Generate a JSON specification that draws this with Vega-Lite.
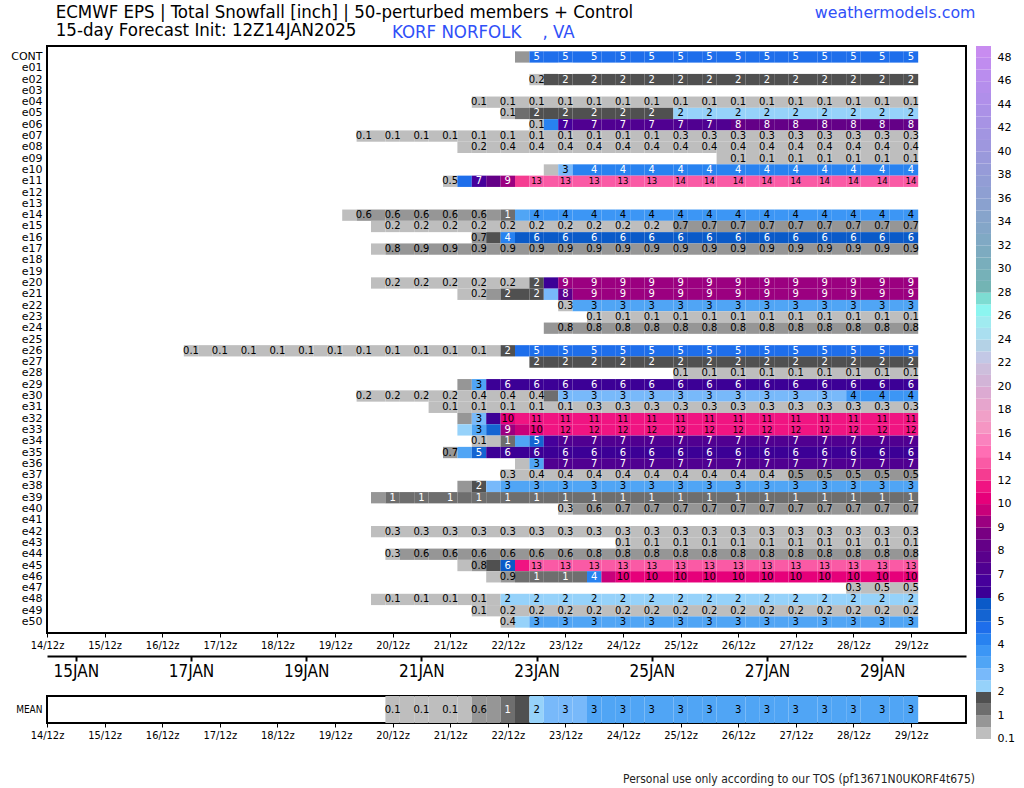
{
"$schema":"https://vega.github.io/schema/vega-lite/v6.json",
"background":"white",
"padding":{"left":9,"top":3,"right":0,"bottom":0},
"title":{"text":"weathermodels.com","anchor":"end","frame":"bounds","dx":-39,"dy":19,"offset":0,"font":"DejaVu Sans","fontSize":15.8,"fontWeight":"normal","color":"#3050f8"},
"config":{"view":{"stroke":null},"font":"DejaVu Sans"},
"datasets":{
"dt":[{"t":2},{"t":10},{"t":18},{"t":26},{"t":34},{"t":42},{"t":50},{"t":58}],
"lg":[{"v":0.1},{"v":0.5},{"v":1},{"v":1.5},{"v":2},{"v":2.5},{"v":3},{"v":3.5},{"v":4},{"v":4.5},{"v":5},{"v":5.5},{"v":6},{"v":6.5},{"v":7},{"v":7.5},{"v":8},{"v":8.5},{"v":9},{"v":9.5},{"v":10},{"v":11},{"v":12},{"v":13},{"v":14},{"v":15},{"v":16},{"v":17},{"v":18},{"v":19},{"v":20},{"v":21},{"v":22},{"v":23},{"v":24},{"v":25},{"v":26},{"v":27},{"v":28},{"v":29},{"v":30},{"v":31},{"v":32},{"v":33},{"v":34},{"v":35},{"v":36},{"v":37},{"v":38},{"v":39},{"v":40},{"v":41},{"v":42},{"v":43},{"v":44},{"v":45},{"v":46},{"v":47},{"v":48}],
"mn":[{"m":"MEAN","t":24,"v":0.1},{"m":"MEAN","t":25,"v":0.1},{"m":"MEAN","t":26,"v":0.1},{"m":"MEAN","t":27,"v":0.1},{"m":"MEAN","t":28,"v":0.1},{"m":"MEAN","t":29,"v":0.2},{"m":"MEAN","t":30,"v":0.6},{"m":"MEAN","t":31,"v":0.8},{"m":"MEAN","t":32,"v":1.2},{"m":"MEAN","t":33,"v":1.7},{"m":"MEAN","t":34,"v":2.2},{"m":"MEAN","t":35,"v":2.7},{"m":"MEAN","t":36,"v":2.8},{"m":"MEAN","t":37,"v":2.9},{"m":"MEAN","t":38,"v":3.2},{"m":"MEAN","t":39,"v":3.2},{"m":"MEAN","t":40,"v":3.2},{"m":"MEAN","t":41,"v":3.2},{"m":"MEAN","t":42,"v":3.2},{"m":"MEAN","t":43,"v":3.2},{"m":"MEAN","t":44,"v":3.2},{"m":"MEAN","t":45,"v":3.2},{"m":"MEAN","t":46,"v":3.2},{"m":"MEAN","t":47,"v":3.2},{"m":"MEAN","t":48,"v":3.2},{"m":"MEAN","t":49,"v":3.2},{"m":"MEAN","t":50,"v":3.2},{"m":"MEAN","t":51,"v":3.2},{"m":"MEAN","t":52,"v":3.2},{"m":"MEAN","t":53,"v":3.2},{"m":"MEAN","t":54,"v":3.2},{"m":"MEAN","t":55,"v":3.2},{"m":"MEAN","t":56,"v":3.2},{"m":"MEAN","t":57,"v":3.2},{"m":"MEAN","t":58,"v":3.2},{"m":"MEAN","t":59,"v":3.2},{"m":"MEAN","t":60,"v":3.2}],
"mem":[
{"m":"CONT","t":33,"v":0.7},{"m":"CONT","t":34,"v":4.8},{"m":"CONT","t":35,"v":4.8},{"m":"CONT","t":36,"v":4.8},{"m":"CONT","t":37,"v":4.8},{"m":"CONT","t":38,"v":4.8},{"m":"CONT","t":39,"v":4.8},{"m":"CONT","t":40,"v":4.8},{"m":"CONT","t":41,"v":4.8},{"m":"CONT","t":42,"v":4.8},{"m":"CONT","t":43,"v":4.8},{"m":"CONT","t":44,"v":4.8},{"m":"CONT","t":45,"v":4.8},{"m":"CONT","t":46,"v":4.8},{"m":"CONT","t":47,"v":4.8},{"m":"CONT","t":48,"v":4.8},{"m":"CONT","t":49,"v":4.8},{"m":"CONT","t":50,"v":4.8},{"m":"CONT","t":51,"v":4.8},{"m":"CONT","t":52,"v":4.8},{"m":"CONT","t":53,"v":4.8},{"m":"CONT","t":54,"v":4.8},{"m":"CONT","t":55,"v":4.8},{"m":"CONT","t":56,"v":4.8},{"m":"CONT","t":57,"v":4.8},{"m":"CONT","t":58,"v":4.8},{"m":"CONT","t":59,"v":4.8},{"m":"CONT","t":60,"v":4.8},
{"m":"e02","t":34,"v":0.2},{"m":"e02","t":35,"v":1.8},{"m":"e02","t":36,"v":1.8},{"m":"e02","t":37,"v":1.8},{"m":"e02","t":38,"v":1.8},{"m":"e02","t":39,"v":1.8},{"m":"e02","t":40,"v":1.8},{"m":"e02","t":41,"v":1.8},{"m":"e02","t":42,"v":1.8},{"m":"e02","t":43,"v":1.8},{"m":"e02","t":44,"v":1.8},{"m":"e02","t":45,"v":1.8},{"m":"e02","t":46,"v":1.8},{"m":"e02","t":47,"v":1.8},{"m":"e02","t":48,"v":1.8},{"m":"e02","t":49,"v":1.8},{"m":"e02","t":50,"v":1.8},{"m":"e02","t":51,"v":1.8},{"m":"e02","t":52,"v":1.8},{"m":"e02","t":53,"v":1.8},{"m":"e02","t":54,"v":1.8},{"m":"e02","t":55,"v":1.8},{"m":"e02","t":56,"v":1.8},{"m":"e02","t":57,"v":1.8},{"m":"e02","t":58,"v":1.8},{"m":"e02","t":59,"v":1.8},{"m":"e02","t":60,"v":1.8},
{"m":"e04","t":30,"v":0.1},{"m":"e04","t":31,"v":0.1},{"m":"e04","t":32,"v":0.1},{"m":"e04","t":33,"v":0.1},{"m":"e04","t":34,"v":0.1},{"m":"e04","t":35,"v":0.1},{"m":"e04","t":36,"v":0.1},{"m":"e04","t":37,"v":0.1},{"m":"e04","t":38,"v":0.1},{"m":"e04","t":39,"v":0.1},{"m":"e04","t":40,"v":0.1},{"m":"e04","t":41,"v":0.1},{"m":"e04","t":42,"v":0.1},{"m":"e04","t":43,"v":0.1},{"m":"e04","t":44,"v":0.1},{"m":"e04","t":45,"v":0.1},{"m":"e04","t":46,"v":0.1},{"m":"e04","t":47,"v":0.1},{"m":"e04","t":48,"v":0.1},{"m":"e04","t":49,"v":0.1},{"m":"e04","t":50,"v":0.1},{"m":"e04","t":51,"v":0.1},{"m":"e04","t":52,"v":0.1},{"m":"e04","t":53,"v":0.1},{"m":"e04","t":54,"v":0.1},{"m":"e04","t":55,"v":0.1},{"m":"e04","t":56,"v":0.1},{"m":"e04","t":57,"v":0.1},{"m":"e04","t":58,"v":0.1},{"m":"e04","t":59,"v":0.1},{"m":"e04","t":60,"v":0.1},
{"m":"e05","t":32,"v":0.1},{"m":"e05","t":33,"v":1.2},{"m":"e05","t":34,"v":1.8},{"m":"e05","t":35,"v":1.8},{"m":"e05","t":36,"v":1.8},{"m":"e05","t":37,"v":1.8},{"m":"e05","t":38,"v":1.8},{"m":"e05","t":39,"v":1.8},{"m":"e05","t":40,"v":1.8},{"m":"e05","t":41,"v":1.8},{"m":"e05","t":42,"v":1.8},{"m":"e05","t":43,"v":1.8},{"m":"e05","t":44,"v":2.2},{"m":"e05","t":45,"v":2.2},{"m":"e05","t":46,"v":2.2},{"m":"e05","t":47,"v":2.2},{"m":"e05","t":48,"v":2.2},{"m":"e05","t":49,"v":2.2},{"m":"e05","t":50,"v":2.2},{"m":"e05","t":51,"v":2.2},{"m":"e05","t":52,"v":2.2},{"m":"e05","t":53,"v":2.2},{"m":"e05","t":54,"v":2.2},{"m":"e05","t":55,"v":2.2},{"m":"e05","t":56,"v":2.2},{"m":"e05","t":57,"v":2.2},{"m":"e05","t":58,"v":2.2},{"m":"e05","t":59,"v":2.2},{"m":"e05","t":60,"v":2.2},
{"m":"e06","t":34,"v":0.1},{"m":"e06","t":35,"v":4.2},{"m":"e06","t":36,"v":6.8},{"m":"e06","t":37,"v":7.2},{"m":"e06","t":38,"v":7.2},{"m":"e06","t":39,"v":7.2},{"m":"e06","t":40,"v":7.2},{"m":"e06","t":41,"v":7.2},{"m":"e06","t":42,"v":7.2},{"m":"e06","t":43,"v":7.2},{"m":"e06","t":44,"v":7.2},{"m":"e06","t":45,"v":7.2},{"m":"e06","t":46,"v":7.2},{"m":"e06","t":47,"v":7.2},{"m":"e06","t":48,"v":8.2},{"m":"e06","t":49,"v":8.2},{"m":"e06","t":50,"v":8.2},{"m":"e06","t":51,"v":8.2},{"m":"e06","t":52,"v":8.2},{"m":"e06","t":53,"v":8.2},{"m":"e06","t":54,"v":8.2},{"m":"e06","t":55,"v":8.2},{"m":"e06","t":56,"v":8.2},{"m":"e06","t":57,"v":8.2},{"m":"e06","t":58,"v":8.2},{"m":"e06","t":59,"v":8.2},{"m":"e06","t":60,"v":8.2},
{"m":"e07","t":22,"v":0.1},{"m":"e07","t":23,"v":0.1},{"m":"e07","t":24,"v":0.1},{"m":"e07","t":25,"v":0.1},{"m":"e07","t":26,"v":0.1},{"m":"e07","t":27,"v":0.1},{"m":"e07","t":28,"v":0.1},{"m":"e07","t":29,"v":0.1},{"m":"e07","t":30,"v":0.1},{"m":"e07","t":31,"v":0.1},{"m":"e07","t":32,"v":0.1},{"m":"e07","t":33,"v":0.1},{"m":"e07","t":34,"v":0.1},{"m":"e07","t":35,"v":0.1},{"m":"e07","t":36,"v":0.1},{"m":"e07","t":37,"v":0.1},{"m":"e07","t":38,"v":0.1},{"m":"e07","t":39,"v":0.1},{"m":"e07","t":40,"v":0.1},{"m":"e07","t":41,"v":0.1},{"m":"e07","t":42,"v":0.1},{"m":"e07","t":43,"v":0.1},{"m":"e07","t":44,"v":0.3},{"m":"e07","t":45,"v":0.3},{"m":"e07","t":46,"v":0.3},{"m":"e07","t":47,"v":0.3},{"m":"e07","t":48,"v":0.3},{"m":"e07","t":49,"v":0.3},{"m":"e07","t":50,"v":0.3},{"m":"e07","t":51,"v":0.3},{"m":"e07","t":52,"v":0.3},{"m":"e07","t":53,"v":0.3},{"m":"e07","t":54,"v":0.3},{"m":"e07","t":55,"v":0.3},{"m":"e07","t":56,"v":0.3},{"m":"e07","t":57,"v":0.3},{"m":"e07","t":58,"v":0.3},{"m":"e07","t":59,"v":0.3},{"m":"e07","t":60,"v":0.3},
{"m":"e08","t":29,"v":0.1},{"m":"e08","t":30,"v":0.2},{"m":"e08","t":31,"v":0.3},{"m":"e08","t":32,"v":0.4},{"m":"e08","t":33,"v":0.4},{"m":"e08","t":34,"v":0.4},{"m":"e08","t":35,"v":0.4},{"m":"e08","t":36,"v":0.4},{"m":"e08","t":37,"v":0.4},{"m":"e08","t":38,"v":0.4},{"m":"e08","t":39,"v":0.4},{"m":"e08","t":40,"v":0.4},{"m":"e08","t":41,"v":0.4},{"m":"e08","t":42,"v":0.4},{"m":"e08","t":43,"v":0.4},{"m":"e08","t":44,"v":0.4},{"m":"e08","t":45,"v":0.4},{"m":"e08","t":46,"v":0.4},{"m":"e08","t":47,"v":0.4},{"m":"e08","t":48,"v":0.4},{"m":"e08","t":49,"v":0.4},{"m":"e08","t":50,"v":0.4},{"m":"e08","t":51,"v":0.4},{"m":"e08","t":52,"v":0.4},{"m":"e08","t":53,"v":0.4},{"m":"e08","t":54,"v":0.4},{"m":"e08","t":55,"v":0.4},{"m":"e08","t":56,"v":0.4},{"m":"e08","t":57,"v":0.4},{"m":"e08","t":58,"v":0.4},{"m":"e08","t":59,"v":0.4},{"m":"e08","t":60,"v":0.4},
{"m":"e09","t":47,"v":0.1},{"m":"e09","t":48,"v":0.1},{"m":"e09","t":49,"v":0.1},{"m":"e09","t":50,"v":0.1},{"m":"e09","t":51,"v":0.1},{"m":"e09","t":52,"v":0.1},{"m":"e09","t":53,"v":0.1},{"m":"e09","t":54,"v":0.1},{"m":"e09","t":55,"v":0.1},{"m":"e09","t":56,"v":0.1},{"m":"e09","t":57,"v":0.1},{"m":"e09","t":58,"v":0.1},{"m":"e09","t":59,"v":0.1},{"m":"e09","t":60,"v":0.1},
{"m":"e10","t":35,"v":0.2},{"m":"e10","t":36,"v":2.8},{"m":"e10","t":37,"v":4.2},{"m":"e10","t":38,"v":4.2},{"m":"e10","t":39,"v":4.2},{"m":"e10","t":40,"v":4.2},{"m":"e10","t":41,"v":4.2},{"m":"e10","t":42,"v":4.2},{"m":"e10","t":43,"v":4.2},{"m":"e10","t":44,"v":4.2},{"m":"e10","t":45,"v":4.2},{"m":"e10","t":46,"v":4.2},{"m":"e10","t":47,"v":4.2},{"m":"e10","t":48,"v":4.2},{"m":"e10","t":49,"v":4.2},{"m":"e10","t":50,"v":4.2},{"m":"e10","t":51,"v":4.2},{"m":"e10","t":52,"v":4.2},{"m":"e10","t":53,"v":4.2},{"m":"e10","t":54,"v":4.2},{"m":"e10","t":55,"v":4.2},{"m":"e10","t":56,"v":4.2},{"m":"e10","t":57,"v":4.2},{"m":"e10","t":58,"v":4.2},{"m":"e10","t":59,"v":4.2},{"m":"e10","t":60,"v":4.2},
{"m":"e11","t":28,"v":0.46},{"m":"e11","t":29,"v":4.8},{"m":"e11","t":30,"v":6.8},{"m":"e11","t":31,"v":8.2},{"m":"e11","t":32,"v":9.2},{"m":"e11","t":33,"v":12.4},{"m":"e11","t":34,"v":13.2},{"m":"e11","t":35,"v":13.2},{"m":"e11","t":36,"v":13.2},{"m":"e11","t":37,"v":13.2},{"m":"e11","t":38,"v":13.2},{"m":"e11","t":39,"v":13.2},{"m":"e11","t":40,"v":13.2},{"m":"e11","t":41,"v":13.2},{"m":"e11","t":42,"v":13.2},{"m":"e11","t":43,"v":13.2},{"m":"e11","t":44,"v":13.6},{"m":"e11","t":45,"v":13.6},{"m":"e11","t":46,"v":13.6},{"m":"e11","t":47,"v":13.6},{"m":"e11","t":48,"v":13.6},{"m":"e11","t":49,"v":13.6},{"m":"e11","t":50,"v":13.6},{"m":"e11","t":51,"v":13.6},{"m":"e11","t":52,"v":13.6},{"m":"e11","t":53,"v":13.6},{"m":"e11","t":54,"v":13.6},{"m":"e11","t":55,"v":13.6},{"m":"e11","t":56,"v":13.6},{"m":"e11","t":57,"v":13.6},{"m":"e11","t":58,"v":13.6},{"m":"e11","t":59,"v":13.6},{"m":"e11","t":60,"v":13.6},
{"m":"e14","t":21,"v":0.3},{"m":"e14","t":22,"v":0.6},{"m":"e14","t":23,"v":0.6},{"m":"e14","t":24,"v":0.6},{"m":"e14","t":25,"v":0.6},{"m":"e14","t":26,"v":0.6},{"m":"e14","t":27,"v":0.6},{"m":"e14","t":28,"v":0.6},{"m":"e14","t":29,"v":0.6},{"m":"e14","t":30,"v":0.6},{"m":"e14","t":31,"v":0.6},{"m":"e14","t":32,"v":1.2},{"m":"e14","t":33,"v":3.2},{"m":"e14","t":34,"v":3.8},{"m":"e14","t":35,"v":3.8},{"m":"e14","t":36,"v":3.8},{"m":"e14","t":37,"v":3.8},{"m":"e14","t":38,"v":3.8},{"m":"e14","t":39,"v":3.8},{"m":"e14","t":40,"v":3.8},{"m":"e14","t":41,"v":3.8},{"m":"e14","t":42,"v":3.8},{"m":"e14","t":43,"v":3.8},{"m":"e14","t":44,"v":3.8},{"m":"e14","t":45,"v":3.8},{"m":"e14","t":46,"v":3.8},{"m":"e14","t":47,"v":3.8},{"m":"e14","t":48,"v":3.8},{"m":"e14","t":49,"v":3.8},{"m":"e14","t":50,"v":3.8},{"m":"e14","t":51,"v":3.8},{"m":"e14","t":52,"v":3.8},{"m":"e14","t":53,"v":3.8},{"m":"e14","t":54,"v":3.8},{"m":"e14","t":55,"v":3.8},{"m":"e14","t":56,"v":3.8},{"m":"e14","t":57,"v":3.8},{"m":"e14","t":58,"v":3.8},{"m":"e14","t":59,"v":3.8},{"m":"e14","t":60,"v":3.8},
{"m":"e15","t":23,"v":0.2},{"m":"e15","t":24,"v":0.2},{"m":"e15","t":25,"v":0.2},{"m":"e15","t":26,"v":0.2},{"m":"e15","t":27,"v":0.2},{"m":"e15","t":28,"v":0.2},{"m":"e15","t":29,"v":0.2},{"m":"e15","t":30,"v":0.2},{"m":"e15","t":31,"v":0.2},{"m":"e15","t":32,"v":0.2},{"m":"e15","t":33,"v":0.2},{"m":"e15","t":34,"v":0.2},{"m":"e15","t":35,"v":0.2},{"m":"e15","t":36,"v":0.2},{"m":"e15","t":37,"v":0.2},{"m":"e15","t":38,"v":0.2},{"m":"e15","t":39,"v":0.2},{"m":"e15","t":40,"v":0.2},{"m":"e15","t":41,"v":0.2},{"m":"e15","t":42,"v":0.2},{"m":"e15","t":43,"v":0.2},{"m":"e15","t":44,"v":0.7},{"m":"e15","t":45,"v":0.7},{"m":"e15","t":46,"v":0.7},{"m":"e15","t":47,"v":0.7},{"m":"e15","t":48,"v":0.7},{"m":"e15","t":49,"v":0.7},{"m":"e15","t":50,"v":0.7},{"m":"e15","t":51,"v":0.7},{"m":"e15","t":52,"v":0.7},{"m":"e15","t":53,"v":0.7},{"m":"e15","t":54,"v":0.7},{"m":"e15","t":55,"v":0.7},{"m":"e15","t":56,"v":0.7},{"m":"e15","t":57,"v":0.7},{"m":"e15","t":58,"v":0.7},{"m":"e15","t":59,"v":0.7},{"m":"e15","t":60,"v":0.7},
{"m":"e16","t":30,"v":0.7},{"m":"e16","t":31,"v":1.8},{"m":"e16","t":32,"v":4.2},{"m":"e16","t":33,"v":5.8},{"m":"e16","t":34,"v":5.8},{"m":"e16","t":35,"v":5.8},{"m":"e16","t":36,"v":5.8},{"m":"e16","t":37,"v":5.8},{"m":"e16","t":38,"v":5.8},{"m":"e16","t":39,"v":5.8},{"m":"e16","t":40,"v":5.8},{"m":"e16","t":41,"v":5.8},{"m":"e16","t":42,"v":5.8},{"m":"e16","t":43,"v":5.8},{"m":"e16","t":44,"v":5.8},{"m":"e16","t":45,"v":5.8},{"m":"e16","t":46,"v":5.8},{"m":"e16","t":47,"v":5.8},{"m":"e16","t":48,"v":5.8},{"m":"e16","t":49,"v":5.8},{"m":"e16","t":50,"v":5.8},{"m":"e16","t":51,"v":5.8},{"m":"e16","t":52,"v":5.8},{"m":"e16","t":53,"v":5.8},{"m":"e16","t":54,"v":5.8},{"m":"e16","t":55,"v":5.8},{"m":"e16","t":56,"v":5.8},{"m":"e16","t":57,"v":5.8},{"m":"e16","t":58,"v":5.8},{"m":"e16","t":59,"v":5.8},{"m":"e16","t":60,"v":5.8},
{"m":"e17","t":23,"v":0.4},{"m":"e17","t":24,"v":0.8},{"m":"e17","t":25,"v":0.8},{"m":"e17","t":26,"v":0.9},{"m":"e17","t":27,"v":0.9},{"m":"e17","t":28,"v":0.9},{"m":"e17","t":29,"v":0.9},{"m":"e17","t":30,"v":0.9},{"m":"e17","t":31,"v":0.9},{"m":"e17","t":32,"v":0.9},{"m":"e17","t":33,"v":0.9},{"m":"e17","t":34,"v":0.9},{"m":"e17","t":35,"v":0.9},{"m":"e17","t":36,"v":0.9},{"m":"e17","t":37,"v":0.9},{"m":"e17","t":38,"v":0.9},{"m":"e17","t":39,"v":0.9},{"m":"e17","t":40,"v":0.9},{"m":"e17","t":41,"v":0.9},{"m":"e17","t":42,"v":0.9},{"m":"e17","t":43,"v":0.9},{"m":"e17","t":44,"v":0.9},{"m":"e17","t":45,"v":0.9},{"m":"e17","t":46,"v":0.9},{"m":"e17","t":47,"v":0.9},{"m":"e17","t":48,"v":0.9},{"m":"e17","t":49,"v":0.9},{"m":"e17","t":50,"v":0.9},{"m":"e17","t":51,"v":0.9},{"m":"e17","t":52,"v":0.9},{"m":"e17","t":53,"v":0.9},{"m":"e17","t":54,"v":0.9},{"m":"e17","t":55,"v":0.9},{"m":"e17","t":56,"v":0.9},{"m":"e17","t":57,"v":0.9},{"m":"e17","t":58,"v":0.9},{"m":"e17","t":59,"v":0.9},{"m":"e17","t":60,"v":0.9},
{"m":"e20","t":23,"v":0.2},{"m":"e20","t":24,"v":0.2},{"m":"e20","t":25,"v":0.2},{"m":"e20","t":26,"v":0.2},{"m":"e20","t":27,"v":0.2},{"m":"e20","t":28,"v":0.2},{"m":"e20","t":29,"v":0.2},{"m":"e20","t":30,"v":0.2},{"m":"e20","t":31,"v":0.2},{"m":"e20","t":32,"v":0.2},{"m":"e20","t":33,"v":0.2},{"m":"e20","t":34,"v":1.8},{"m":"e20","t":35,"v":6.3},{"m":"e20","t":36,"v":9.2},{"m":"e20","t":37,"v":9.2},{"m":"e20","t":38,"v":9.2},{"m":"e20","t":39,"v":9.2},{"m":"e20","t":40,"v":9.2},{"m":"e20","t":41,"v":9.2},{"m":"e20","t":42,"v":9.2},{"m":"e20","t":43,"v":9.2},{"m":"e20","t":44,"v":9.2},{"m":"e20","t":45,"v":9.2},{"m":"e20","t":46,"v":9.2},{"m":"e20","t":47,"v":9.2},{"m":"e20","t":48,"v":9.2},{"m":"e20","t":49,"v":9.2},{"m":"e20","t":50,"v":9.2},{"m":"e20","t":51,"v":9.2},{"m":"e20","t":52,"v":9.2},{"m":"e20","t":53,"v":9.2},{"m":"e20","t":54,"v":9.2},{"m":"e20","t":55,"v":9.2},{"m":"e20","t":56,"v":9.2},{"m":"e20","t":57,"v":9.2},{"m":"e20","t":58,"v":9.2},{"m":"e20","t":59,"v":9.2},{"m":"e20","t":60,"v":9.2},
{"m":"e21","t":29,"v":0.1},{"m":"e21","t":30,"v":0.2},{"m":"e21","t":31,"v":0.7},{"m":"e21","t":32,"v":1.8},{"m":"e21","t":33,"v":1.8},{"m":"e21","t":34,"v":1.8},{"m":"e21","t":35,"v":2.7},{"m":"e21","t":36,"v":7.8},{"m":"e21","t":37,"v":9.1},{"m":"e21","t":38,"v":9.1},{"m":"e21","t":39,"v":9.1},{"m":"e21","t":40,"v":9.1},{"m":"e21","t":41,"v":9.1},{"m":"e21","t":42,"v":9.1},{"m":"e21","t":43,"v":9.1},{"m":"e21","t":44,"v":9.1},{"m":"e21","t":45,"v":9.1},{"m":"e21","t":46,"v":9.1},{"m":"e21","t":47,"v":9.1},{"m":"e21","t":48,"v":9.1},{"m":"e21","t":49,"v":9.1},{"m":"e21","t":50,"v":9.1},{"m":"e21","t":51,"v":9.1},{"m":"e21","t":52,"v":9.1},{"m":"e21","t":53,"v":9.1},{"m":"e21","t":54,"v":9.1},{"m":"e21","t":55,"v":9.1},{"m":"e21","t":56,"v":9.1},{"m":"e21","t":57,"v":9.1},{"m":"e21","t":58,"v":9.1},{"m":"e21","t":59,"v":9.1},{"m":"e21","t":60,"v":9.1},
{"m":"e22","t":36,"v":0.3},{"m":"e22","t":37,"v":3.2},{"m":"e22","t":38,"v":3.2},{"m":"e22","t":39,"v":3.2},{"m":"e22","t":40,"v":3.2},{"m":"e22","t":41,"v":3.2},{"m":"e22","t":42,"v":3.2},{"m":"e22","t":43,"v":3.2},{"m":"e22","t":44,"v":3.2},{"m":"e22","t":45,"v":3.2},{"m":"e22","t":46,"v":3.2},{"m":"e22","t":47,"v":3.2},{"m":"e22","t":48,"v":3.2},{"m":"e22","t":49,"v":3.2},{"m":"e22","t":50,"v":3.2},{"m":"e22","t":51,"v":3.2},{"m":"e22","t":52,"v":3.2},{"m":"e22","t":53,"v":3.2},{"m":"e22","t":54,"v":3.2},{"m":"e22","t":55,"v":3.2},{"m":"e22","t":56,"v":3.2},{"m":"e22","t":57,"v":3.2},{"m":"e22","t":58,"v":3.2},{"m":"e22","t":59,"v":3.2},{"m":"e22","t":60,"v":3.2},
{"m":"e23","t":38,"v":0.1},{"m":"e23","t":39,"v":0.1},{"m":"e23","t":40,"v":0.1},{"m":"e23","t":41,"v":0.1},{"m":"e23","t":42,"v":0.1},{"m":"e23","t":43,"v":0.1},{"m":"e23","t":44,"v":0.1},{"m":"e23","t":45,"v":0.1},{"m":"e23","t":46,"v":0.1},{"m":"e23","t":47,"v":0.1},{"m":"e23","t":48,"v":0.1},{"m":"e23","t":49,"v":0.1},{"m":"e23","t":50,"v":0.1},{"m":"e23","t":51,"v":0.1},{"m":"e23","t":52,"v":0.1},{"m":"e23","t":53,"v":0.1},{"m":"e23","t":54,"v":0.1},{"m":"e23","t":55,"v":0.1},{"m":"e23","t":56,"v":0.1},{"m":"e23","t":57,"v":0.1},{"m":"e23","t":58,"v":0.1},{"m":"e23","t":59,"v":0.1},{"m":"e23","t":60,"v":0.1},
{"m":"e24","t":35,"v":0.8},{"m":"e24","t":36,"v":0.8},{"m":"e24","t":37,"v":0.8},{"m":"e24","t":38,"v":0.8},{"m":"e24","t":39,"v":0.8},{"m":"e24","t":40,"v":0.8},{"m":"e24","t":41,"v":0.8},{"m":"e24","t":42,"v":0.8},{"m":"e24","t":43,"v":0.8},{"m":"e24","t":44,"v":0.8},{"m":"e24","t":45,"v":0.8},{"m":"e24","t":46,"v":0.8},{"m":"e24","t":47,"v":0.8},{"m":"e24","t":48,"v":0.8},{"m":"e24","t":49,"v":0.8},{"m":"e24","t":50,"v":0.8},{"m":"e24","t":51,"v":0.8},{"m":"e24","t":52,"v":0.8},{"m":"e24","t":53,"v":0.8},{"m":"e24","t":54,"v":0.8},{"m":"e24","t":55,"v":0.8},{"m":"e24","t":56,"v":0.8},{"m":"e24","t":57,"v":0.8},{"m":"e24","t":58,"v":0.8},{"m":"e24","t":59,"v":0.8},{"m":"e24","t":60,"v":0.8},
{"m":"e26","t":10,"v":0.1},{"m":"e26","t":11,"v":0.1},{"m":"e26","t":12,"v":0.1},{"m":"e26","t":13,"v":0.1},{"m":"e26","t":14,"v":0.1},{"m":"e26","t":15,"v":0.1},{"m":"e26","t":16,"v":0.1},{"m":"e26","t":17,"v":0.1},{"m":"e26","t":18,"v":0.1},{"m":"e26","t":19,"v":0.1},{"m":"e26","t":20,"v":0.1},{"m":"e26","t":21,"v":0.1},{"m":"e26","t":22,"v":0.1},{"m":"e26","t":23,"v":0.1},{"m":"e26","t":24,"v":0.1},{"m":"e26","t":25,"v":0.1},{"m":"e26","t":26,"v":0.1},{"m":"e26","t":27,"v":0.1},{"m":"e26","t":28,"v":0.1},{"m":"e26","t":29,"v":0.1},{"m":"e26","t":30,"v":0.1},{"m":"e26","t":31,"v":0.1},{"m":"e26","t":32,"v":1.8},{"m":"e26","t":33,"v":4.8},{"m":"e26","t":34,"v":4.8},{"m":"e26","t":35,"v":4.8},{"m":"e26","t":36,"v":4.8},{"m":"e26","t":37,"v":4.8},{"m":"e26","t":38,"v":4.8},{"m":"e26","t":39,"v":4.8},{"m":"e26","t":40,"v":4.8},{"m":"e26","t":41,"v":4.8},{"m":"e26","t":42,"v":4.8},{"m":"e26","t":43,"v":4.8},{"m":"e26","t":44,"v":4.8},{"m":"e26","t":45,"v":4.8},{"m":"e26","t":46,"v":4.8},{"m":"e26","t":47,"v":4.8},{"m":"e26","t":48,"v":4.8},{"m":"e26","t":49,"v":4.8},{"m":"e26","t":50,"v":4.8},{"m":"e26","t":51,"v":4.8},{"m":"e26","t":52,"v":4.8},{"m":"e26","t":53,"v":4.8},{"m":"e26","t":54,"v":4.8},{"m":"e26","t":55,"v":4.8},{"m":"e26","t":56,"v":4.8},{"m":"e26","t":57,"v":4.8},{"m":"e26","t":58,"v":4.8},{"m":"e26","t":59,"v":4.8},{"m":"e26","t":60,"v":4.8},
{"m":"e27","t":34,"v":1.8},{"m":"e27","t":35,"v":1.8},{"m":"e27","t":36,"v":1.8},{"m":"e27","t":37,"v":1.8},{"m":"e27","t":38,"v":1.8},{"m":"e27","t":39,"v":1.8},{"m":"e27","t":40,"v":1.8},{"m":"e27","t":41,"v":1.8},{"m":"e27","t":42,"v":1.8},{"m":"e27","t":43,"v":1.8},{"m":"e27","t":44,"v":1.8},{"m":"e27","t":45,"v":1.8},{"m":"e27","t":46,"v":1.8},{"m":"e27","t":47,"v":1.8},{"m":"e27","t":48,"v":1.8},{"m":"e27","t":49,"v":1.8},{"m":"e27","t":50,"v":1.8},{"m":"e27","t":51,"v":1.8},{"m":"e27","t":52,"v":1.8},{"m":"e27","t":53,"v":1.8},{"m":"e27","t":54,"v":1.8},{"m":"e27","t":55,"v":1.8},{"m":"e27","t":56,"v":1.8},{"m":"e27","t":57,"v":1.8},{"m":"e27","t":58,"v":1.8},{"m":"e27","t":59,"v":1.8},{"m":"e27","t":60,"v":1.8},
{"m":"e28","t":44,"v":0.1},{"m":"e28","t":45,"v":0.1},{"m":"e28","t":46,"v":0.1},{"m":"e28","t":47,"v":0.1},{"m":"e28","t":48,"v":0.1},{"m":"e28","t":49,"v":0.1},{"m":"e28","t":50,"v":0.1},{"m":"e28","t":51,"v":0.1},{"m":"e28","t":52,"v":0.1},{"m":"e28","t":53,"v":0.1},{"m":"e28","t":54,"v":0.1},{"m":"e28","t":55,"v":0.1},{"m":"e28","t":56,"v":0.1},{"m":"e28","t":57,"v":0.1},{"m":"e28","t":58,"v":0.1},{"m":"e28","t":59,"v":0.1},{"m":"e28","t":60,"v":0.1},
{"m":"e29","t":29,"v":0.7},{"m":"e29","t":30,"v":3.2},{"m":"e29","t":31,"v":6.2},{"m":"e29","t":32,"v":6.2},{"m":"e29","t":33,"v":6.2},{"m":"e29","t":34,"v":6.2},{"m":"e29","t":35,"v":6.2},{"m":"e29","t":36,"v":6.2},{"m":"e29","t":37,"v":6.2},{"m":"e29","t":38,"v":6.2},{"m":"e29","t":39,"v":6.2},{"m":"e29","t":40,"v":6.2},{"m":"e29","t":41,"v":6.2},{"m":"e29","t":42,"v":6.2},{"m":"e29","t":43,"v":6.2},{"m":"e29","t":44,"v":6.2},{"m":"e29","t":45,"v":6.2},{"m":"e29","t":46,"v":6.2},{"m":"e29","t":47,"v":6.2},{"m":"e29","t":48,"v":6.2},{"m":"e29","t":49,"v":6.2},{"m":"e29","t":50,"v":6.2},{"m":"e29","t":51,"v":6.2},{"m":"e29","t":52,"v":6.2},{"m":"e29","t":53,"v":6.2},{"m":"e29","t":54,"v":6.2},{"m":"e29","t":55,"v":6.2},{"m":"e29","t":56,"v":6.2},{"m":"e29","t":57,"v":6.2},{"m":"e29","t":58,"v":6.2},{"m":"e29","t":59,"v":6.2},{"m":"e29","t":60,"v":6.2},
{"m":"e30","t":22,"v":0.2},{"m":"e30","t":23,"v":0.2},{"m":"e30","t":24,"v":0.2},{"m":"e30","t":25,"v":0.2},{"m":"e30","t":26,"v":0.2},{"m":"e30","t":27,"v":0.2},{"m":"e30","t":28,"v":0.2},{"m":"e30","t":29,"v":0.2},{"m":"e30","t":30,"v":0.4},{"m":"e30","t":31,"v":0.4},{"m":"e30","t":32,"v":0.4},{"m":"e30","t":33,"v":0.4},{"m":"e30","t":34,"v":0.4},{"m":"e30","t":35,"v":1.2},{"m":"e30","t":36,"v":2.8},{"m":"e30","t":37,"v":2.8},{"m":"e30","t":38,"v":2.8},{"m":"e30","t":39,"v":2.8},{"m":"e30","t":40,"v":2.8},{"m":"e30","t":41,"v":2.8},{"m":"e30","t":42,"v":2.8},{"m":"e30","t":43,"v":2.8},{"m":"e30","t":44,"v":2.8},{"m":"e30","t":45,"v":2.8},{"m":"e30","t":46,"v":2.8},{"m":"e30","t":47,"v":2.8},{"m":"e30","t":48,"v":2.8},{"m":"e30","t":49,"v":2.8},{"m":"e30","t":50,"v":2.8},{"m":"e30","t":51,"v":2.8},{"m":"e30","t":52,"v":2.8},{"m":"e30","t":53,"v":2.8},{"m":"e30","t":54,"v":2.8},{"m":"e30","t":55,"v":2.8},{"m":"e30","t":56,"v":3.8},{"m":"e30","t":57,"v":3.8},{"m":"e30","t":58,"v":3.8},{"m":"e30","t":59,"v":3.8},{"m":"e30","t":60,"v":3.8},
{"m":"e31","t":27,"v":0.1},{"m":"e31","t":28,"v":0.1},{"m":"e31","t":29,"v":0.1},{"m":"e31","t":30,"v":0.1},{"m":"e31","t":31,"v":0.1},{"m":"e31","t":32,"v":0.1},{"m":"e31","t":33,"v":0.1},{"m":"e31","t":34,"v":0.1},{"m":"e31","t":35,"v":0.1},{"m":"e31","t":36,"v":0.1},{"m":"e31","t":37,"v":0.1},{"m":"e31","t":38,"v":0.3},{"m":"e31","t":39,"v":0.3},{"m":"e31","t":40,"v":0.3},{"m":"e31","t":41,"v":0.3},{"m":"e31","t":42,"v":0.3},{"m":"e31","t":43,"v":0.3},{"m":"e31","t":44,"v":0.3},{"m":"e31","t":45,"v":0.3},{"m":"e31","t":46,"v":0.3},{"m":"e31","t":47,"v":0.3},{"m":"e31","t":48,"v":0.3},{"m":"e31","t":49,"v":0.3},{"m":"e31","t":50,"v":0.3},{"m":"e31","t":51,"v":0.3},{"m":"e31","t":52,"v":0.3},{"m":"e31","t":53,"v":0.3},{"m":"e31","t":54,"v":0.3},{"m":"e31","t":55,"v":0.3},{"m":"e31","t":56,"v":0.3},{"m":"e31","t":57,"v":0.3},{"m":"e31","t":58,"v":0.3},{"m":"e31","t":59,"v":0.3},{"m":"e31","t":60,"v":0.3},
{"m":"e32","t":29,"v":0.7},{"m":"e32","t":30,"v":2.8},{"m":"e32","t":31,"v":6.2},{"m":"e32","t":32,"v":10.3},{"m":"e32","t":33,"v":11.2},{"m":"e32","t":34,"v":11.2},{"m":"e32","t":35,"v":11.2},{"m":"e32","t":36,"v":11.2},{"m":"e32","t":37,"v":11.2},{"m":"e32","t":38,"v":11.2},{"m":"e32","t":39,"v":11.2},{"m":"e32","t":40,"v":11.2},{"m":"e32","t":41,"v":11.2},{"m":"e32","t":42,"v":11.2},{"m":"e32","t":43,"v":11.2},{"m":"e32","t":44,"v":11.2},{"m":"e32","t":45,"v":11.2},{"m":"e32","t":46,"v":11.2},{"m":"e32","t":47,"v":11.2},{"m":"e32","t":48,"v":11.2},{"m":"e32","t":49,"v":11.2},{"m":"e32","t":50,"v":11.2},{"m":"e32","t":51,"v":11.2},{"m":"e32","t":52,"v":11.2},{"m":"e32","t":53,"v":11.2},{"m":"e32","t":54,"v":11.2},{"m":"e32","t":55,"v":11.2},{"m":"e32","t":56,"v":11.2},{"m":"e32","t":57,"v":11.2},{"m":"e32","t":58,"v":11.2},{"m":"e32","t":59,"v":11.2},{"m":"e32","t":60,"v":11.2},
{"m":"e33","t":29,"v":2.2},{"m":"e33","t":30,"v":3.2},{"m":"e33","t":31,"v":5.2},{"m":"e33","t":32,"v":9.2},{"m":"e33","t":33,"v":9.8},{"m":"e33","t":34,"v":10.4},{"m":"e33","t":35,"v":11.8},{"m":"e33","t":36,"v":11.8},{"m":"e33","t":37,"v":11.8},{"m":"e33","t":38,"v":11.8},{"m":"e33","t":39,"v":11.8},{"m":"e33","t":40,"v":11.8},{"m":"e33","t":41,"v":11.8},{"m":"e33","t":42,"v":11.8},{"m":"e33","t":43,"v":11.8},{"m":"e33","t":44,"v":11.8},{"m":"e33","t":45,"v":11.8},{"m":"e33","t":46,"v":11.8},{"m":"e33","t":47,"v":11.8},{"m":"e33","t":48,"v":11.8},{"m":"e33","t":49,"v":11.8},{"m":"e33","t":50,"v":11.8},{"m":"e33","t":51,"v":11.8},{"m":"e33","t":52,"v":11.8},{"m":"e33","t":53,"v":11.8},{"m":"e33","t":54,"v":11.8},{"m":"e33","t":55,"v":11.8},{"m":"e33","t":56,"v":11.8},{"m":"e33","t":57,"v":11.8},{"m":"e33","t":58,"v":11.8},{"m":"e33","t":59,"v":11.8},{"m":"e33","t":60,"v":11.8},
{"m":"e34","t":30,"v":0.1},{"m":"e34","t":31,"v":0.1},{"m":"e34","t":32,"v":1.2},{"m":"e34","t":33,"v":3.2},{"m":"e34","t":34,"v":5.2},{"m":"e34","t":35,"v":6.8},{"m":"e34","t":36,"v":7.2},{"m":"e34","t":37,"v":7.2},{"m":"e34","t":38,"v":7.2},{"m":"e34","t":39,"v":7.2},{"m":"e34","t":40,"v":7.2},{"m":"e34","t":41,"v":7.2},{"m":"e34","t":42,"v":7.2},{"m":"e34","t":43,"v":7.2},{"m":"e34","t":44,"v":7.2},{"m":"e34","t":45,"v":7.2},{"m":"e34","t":46,"v":7.2},{"m":"e34","t":47,"v":7.2},{"m":"e34","t":48,"v":7.2},{"m":"e34","t":49,"v":7.2},{"m":"e34","t":50,"v":7.2},{"m":"e34","t":51,"v":7.2},{"m":"e34","t":52,"v":7.2},{"m":"e34","t":53,"v":7.2},{"m":"e34","t":54,"v":7.2},{"m":"e34","t":55,"v":7.2},{"m":"e34","t":56,"v":7.2},{"m":"e34","t":57,"v":7.2},{"m":"e34","t":58,"v":7.2},{"m":"e34","t":59,"v":7.2},{"m":"e34","t":60,"v":7.2},
{"m":"e35","t":28,"v":0.7},{"m":"e35","t":29,"v":3.2},{"m":"e35","t":30,"v":5.2},{"m":"e35","t":31,"v":6.2},{"m":"e35","t":32,"v":6.2},{"m":"e35","t":33,"v":6.2},{"m":"e35","t":34,"v":6.2},{"m":"e35","t":35,"v":6.2},{"m":"e35","t":36,"v":6.2},{"m":"e35","t":37,"v":6.2},{"m":"e35","t":38,"v":6.2},{"m":"e35","t":39,"v":6.2},{"m":"e35","t":40,"v":6.2},{"m":"e35","t":41,"v":6.2},{"m":"e35","t":42,"v":6.2},{"m":"e35","t":43,"v":6.2},{"m":"e35","t":44,"v":6.2},{"m":"e35","t":45,"v":6.2},{"m":"e35","t":46,"v":6.2},{"m":"e35","t":47,"v":6.2},{"m":"e35","t":48,"v":6.2},{"m":"e35","t":49,"v":6.2},{"m":"e35","t":50,"v":6.2},{"m":"e35","t":51,"v":6.2},{"m":"e35","t":52,"v":6.2},{"m":"e35","t":53,"v":6.2},{"m":"e35","t":54,"v":6.2},{"m":"e35","t":55,"v":6.2},{"m":"e35","t":56,"v":6.2},{"m":"e35","t":57,"v":6.2},{"m":"e35","t":58,"v":6.2},{"m":"e35","t":59,"v":6.2},{"m":"e35","t":60,"v":6.2},
{"m":"e36","t":33,"v":0.3},{"m":"e36","t":34,"v":3.2},{"m":"e36","t":35,"v":7.2},{"m":"e36","t":36,"v":7.2},{"m":"e36","t":37,"v":7.2},{"m":"e36","t":38,"v":7.2},{"m":"e36","t":39,"v":7.2},{"m":"e36","t":40,"v":7.2},{"m":"e36","t":41,"v":7.2},{"m":"e36","t":42,"v":7.2},{"m":"e36","t":43,"v":7.2},{"m":"e36","t":44,"v":7.2},{"m":"e36","t":45,"v":7.2},{"m":"e36","t":46,"v":7.2},{"m":"e36","t":47,"v":7.2},{"m":"e36","t":48,"v":7.2},{"m":"e36","t":49,"v":7.2},{"m":"e36","t":50,"v":7.2},{"m":"e36","t":51,"v":7.2},{"m":"e36","t":52,"v":7.2},{"m":"e36","t":53,"v":7.2},{"m":"e36","t":54,"v":7.2},{"m":"e36","t":55,"v":7.2},{"m":"e36","t":56,"v":7.2},{"m":"e36","t":57,"v":7.2},{"m":"e36","t":58,"v":7.2},{"m":"e36","t":59,"v":7.2},{"m":"e36","t":60,"v":7.2},
{"m":"e37","t":32,"v":0.3},{"m":"e37","t":33,"v":0.3},{"m":"e37","t":34,"v":0.4},{"m":"e37","t":35,"v":0.4},{"m":"e37","t":36,"v":0.4},{"m":"e37","t":37,"v":0.4},{"m":"e37","t":38,"v":0.4},{"m":"e37","t":39,"v":0.4},{"m":"e37","t":40,"v":0.4},{"m":"e37","t":41,"v":0.4},{"m":"e37","t":42,"v":0.4},{"m":"e37","t":43,"v":0.4},{"m":"e37","t":44,"v":0.4},{"m":"e37","t":45,"v":0.4},{"m":"e37","t":46,"v":0.4},{"m":"e37","t":47,"v":0.4},{"m":"e37","t":48,"v":0.4},{"m":"e37","t":49,"v":0.4},{"m":"e37","t":50,"v":0.4},{"m":"e37","t":51,"v":0.4},{"m":"e37","t":52,"v":0.52},{"m":"e37","t":53,"v":0.52},{"m":"e37","t":54,"v":0.52},{"m":"e37","t":55,"v":0.52},{"m":"e37","t":56,"v":0.52},{"m":"e37","t":57,"v":0.52},{"m":"e37","t":58,"v":0.52},{"m":"e37","t":59,"v":0.52},{"m":"e37","t":60,"v":0.52},
{"m":"e38","t":29,"v":0.8},{"m":"e38","t":30,"v":1.8},{"m":"e38","t":31,"v":2.7},{"m":"e38","t":32,"v":3.2},{"m":"e38","t":33,"v":3.2},{"m":"e38","t":34,"v":3.2},{"m":"e38","t":35,"v":3.2},{"m":"e38","t":36,"v":3.2},{"m":"e38","t":37,"v":3.2},{"m":"e38","t":38,"v":3.2},{"m":"e38","t":39,"v":3.2},{"m":"e38","t":40,"v":3.2},{"m":"e38","t":41,"v":3.2},{"m":"e38","t":42,"v":3.2},{"m":"e38","t":43,"v":3.2},{"m":"e38","t":44,"v":3.2},{"m":"e38","t":45,"v":3.2},{"m":"e38","t":46,"v":3.2},{"m":"e38","t":47,"v":3.2},{"m":"e38","t":48,"v":3.2},{"m":"e38","t":49,"v":3.2},{"m":"e38","t":50,"v":3.2},{"m":"e38","t":51,"v":3.2},{"m":"e38","t":52,"v":3.2},{"m":"e38","t":53,"v":3.2},{"m":"e38","t":54,"v":3.2},{"m":"e38","t":55,"v":3.2},{"m":"e38","t":56,"v":3.2},{"m":"e38","t":57,"v":3.2},{"m":"e38","t":58,"v":3.2},{"m":"e38","t":59,"v":3.2},{"m":"e38","t":60,"v":3.2},
{"m":"e39","t":23,"v":0.8},{"m":"e39","t":24,"v":1.2},{"m":"e39","t":25,"v":1.2},{"m":"e39","t":26,"v":1.2},{"m":"e39","t":27,"v":1.2},{"m":"e39","t":28,"v":1.2},{"m":"e39","t":29,"v":1.2},{"m":"e39","t":30,"v":1.2},{"m":"e39","t":31,"v":1.2},{"m":"e39","t":32,"v":1.2},{"m":"e39","t":33,"v":1.2},{"m":"e39","t":34,"v":1.2},{"m":"e39","t":35,"v":1.2},{"m":"e39","t":36,"v":1.2},{"m":"e39","t":37,"v":1.2},{"m":"e39","t":38,"v":1.2},{"m":"e39","t":39,"v":1.2},{"m":"e39","t":40,"v":1.2},{"m":"e39","t":41,"v":1.2},{"m":"e39","t":42,"v":1.2},{"m":"e39","t":43,"v":1.2},{"m":"e39","t":44,"v":1.2},{"m":"e39","t":45,"v":1.2},{"m":"e39","t":46,"v":1.2},{"m":"e39","t":47,"v":1.2},{"m":"e39","t":48,"v":1.2},{"m":"e39","t":49,"v":1.2},{"m":"e39","t":50,"v":1.2},{"m":"e39","t":51,"v":1.2},{"m":"e39","t":52,"v":1.2},{"m":"e39","t":53,"v":1.2},{"m":"e39","t":54,"v":1.2},{"m":"e39","t":55,"v":1.2},{"m":"e39","t":56,"v":1.2},{"m":"e39","t":57,"v":1.2},{"m":"e39","t":58,"v":1.2},{"m":"e39","t":59,"v":1.2},{"m":"e39","t":60,"v":1.2},
{"m":"e40","t":36,"v":0.3},{"m":"e40","t":37,"v":0.5},{"m":"e40","t":38,"v":0.6},{"m":"e40","t":39,"v":0.7},{"m":"e40","t":40,"v":0.7},{"m":"e40","t":41,"v":0.7},{"m":"e40","t":42,"v":0.7},{"m":"e40","t":43,"v":0.7},{"m":"e40","t":44,"v":0.7},{"m":"e40","t":45,"v":0.7},{"m":"e40","t":46,"v":0.7},{"m":"e40","t":47,"v":0.7},{"m":"e40","t":48,"v":0.7},{"m":"e40","t":49,"v":0.7},{"m":"e40","t":50,"v":0.7},{"m":"e40","t":51,"v":0.7},{"m":"e40","t":52,"v":0.7},{"m":"e40","t":53,"v":0.7},{"m":"e40","t":54,"v":0.7},{"m":"e40","t":55,"v":0.7},{"m":"e40","t":56,"v":0.7},{"m":"e40","t":57,"v":0.7},{"m":"e40","t":58,"v":0.7},{"m":"e40","t":59,"v":0.7},{"m":"e40","t":60,"v":0.7},
{"m":"e42","t":23,"v":0.3},{"m":"e42","t":24,"v":0.3},{"m":"e42","t":25,"v":0.3},{"m":"e42","t":26,"v":0.3},{"m":"e42","t":27,"v":0.3},{"m":"e42","t":28,"v":0.3},{"m":"e42","t":29,"v":0.3},{"m":"e42","t":30,"v":0.3},{"m":"e42","t":31,"v":0.3},{"m":"e42","t":32,"v":0.3},{"m":"e42","t":33,"v":0.3},{"m":"e42","t":34,"v":0.3},{"m":"e42","t":35,"v":0.3},{"m":"e42","t":36,"v":0.3},{"m":"e42","t":37,"v":0.3},{"m":"e42","t":38,"v":0.3},{"m":"e42","t":39,"v":0.3},{"m":"e42","t":40,"v":0.3},{"m":"e42","t":41,"v":0.3},{"m":"e42","t":42,"v":0.3},{"m":"e42","t":43,"v":0.3},{"m":"e42","t":44,"v":0.3},{"m":"e42","t":45,"v":0.3},{"m":"e42","t":46,"v":0.3},{"m":"e42","t":47,"v":0.3},{"m":"e42","t":48,"v":0.3},{"m":"e42","t":49,"v":0.3},{"m":"e42","t":50,"v":0.3},{"m":"e42","t":51,"v":0.3},{"m":"e42","t":52,"v":0.3},{"m":"e42","t":53,"v":0.3},{"m":"e42","t":54,"v":0.3},{"m":"e42","t":55,"v":0.3},{"m":"e42","t":56,"v":0.3},{"m":"e42","t":57,"v":0.3},{"m":"e42","t":58,"v":0.3},{"m":"e42","t":59,"v":0.3},{"m":"e42","t":60,"v":0.3},
{"m":"e43","t":40,"v":0.1},{"m":"e43","t":41,"v":0.1},{"m":"e43","t":42,"v":0.1},{"m":"e43","t":43,"v":0.1},{"m":"e43","t":44,"v":0.1},{"m":"e43","t":45,"v":0.1},{"m":"e43","t":46,"v":0.1},{"m":"e43","t":47,"v":0.1},{"m":"e43","t":48,"v":0.1},{"m":"e43","t":49,"v":0.1},{"m":"e43","t":50,"v":0.1},{"m":"e43","t":51,"v":0.1},{"m":"e43","t":52,"v":0.1},{"m":"e43","t":53,"v":0.1},{"m":"e43","t":54,"v":0.1},{"m":"e43","t":55,"v":0.1},{"m":"e43","t":56,"v":0.1},{"m":"e43","t":57,"v":0.1},{"m":"e43","t":58,"v":0.1},{"m":"e43","t":59,"v":0.1},{"m":"e43","t":60,"v":0.1},
{"m":"e44","t":24,"v":0.3},{"m":"e44","t":25,"v":0.6},{"m":"e44","t":26,"v":0.6},{"m":"e44","t":27,"v":0.6},{"m":"e44","t":28,"v":0.6},{"m":"e44","t":29,"v":0.6},{"m":"e44","t":30,"v":0.6},{"m":"e44","t":31,"v":0.6},{"m":"e44","t":32,"v":0.6},{"m":"e44","t":33,"v":0.6},{"m":"e44","t":34,"v":0.6},{"m":"e44","t":35,"v":0.6},{"m":"e44","t":36,"v":0.6},{"m":"e44","t":37,"v":0.6},{"m":"e44","t":38,"v":0.8},{"m":"e44","t":39,"v":0.8},{"m":"e44","t":40,"v":0.8},{"m":"e44","t":41,"v":0.8},{"m":"e44","t":42,"v":0.8},{"m":"e44","t":43,"v":0.8},{"m":"e44","t":44,"v":0.8},{"m":"e44","t":45,"v":0.8},{"m":"e44","t":46,"v":0.8},{"m":"e44","t":47,"v":0.8},{"m":"e44","t":48,"v":0.8},{"m":"e44","t":49,"v":0.8},{"m":"e44","t":50,"v":0.8},{"m":"e44","t":51,"v":0.8},{"m":"e44","t":52,"v":0.8},{"m":"e44","t":53,"v":0.8},{"m":"e44","t":54,"v":0.8},{"m":"e44","t":55,"v":0.8},{"m":"e44","t":56,"v":0.8},{"m":"e44","t":57,"v":0.8},{"m":"e44","t":58,"v":0.8},{"m":"e44","t":59,"v":0.8},{"m":"e44","t":60,"v":0.8},
{"m":"e45","t":29,"v":0.3},{"m":"e45","t":30,"v":0.8},{"m":"e45","t":31,"v":1.8},{"m":"e45","t":32,"v":5.8},{"m":"e45","t":33,"v":11.5},{"m":"e45","t":34,"v":13.2},{"m":"e45","t":35,"v":13.2},{"m":"e45","t":36,"v":13.2},{"m":"e45","t":37,"v":13.2},{"m":"e45","t":38,"v":13.2},{"m":"e45","t":39,"v":13.2},{"m":"e45","t":40,"v":13.2},{"m":"e45","t":41,"v":13.2},{"m":"e45","t":42,"v":13.2},{"m":"e45","t":43,"v":13.2},{"m":"e45","t":44,"v":13.2},{"m":"e45","t":45,"v":13.2},{"m":"e45","t":46,"v":13.2},{"m":"e45","t":47,"v":13.2},{"m":"e45","t":48,"v":13.2},{"m":"e45","t":49,"v":13.2},{"m":"e45","t":50,"v":13.2},{"m":"e45","t":51,"v":13.2},{"m":"e45","t":52,"v":13.2},{"m":"e45","t":53,"v":13.2},{"m":"e45","t":54,"v":13.2},{"m":"e45","t":55,"v":13.2},{"m":"e45","t":56,"v":13.2},{"m":"e45","t":57,"v":13.2},{"m":"e45","t":58,"v":13.2},{"m":"e45","t":59,"v":13.2},{"m":"e45","t":60,"v":13.2},
{"m":"e46","t":31,"v":0.3},{"m":"e46","t":32,"v":0.9},{"m":"e46","t":33,"v":1.2},{"m":"e46","t":34,"v":1.2},{"m":"e46","t":35,"v":1.2},{"m":"e46","t":36,"v":1.2},{"m":"e46","t":37,"v":1.2},{"m":"e46","t":38,"v":4.2},{"m":"e46","t":39,"v":9.8},{"m":"e46","t":40,"v":10.2},{"m":"e46","t":41,"v":10.2},{"m":"e46","t":42,"v":10.2},{"m":"e46","t":43,"v":10.2},{"m":"e46","t":44,"v":10.2},{"m":"e46","t":45,"v":10.2},{"m":"e46","t":46,"v":10.2},{"m":"e46","t":47,"v":10.2},{"m":"e46","t":48,"v":10.2},{"m":"e46","t":49,"v":10.2},{"m":"e46","t":50,"v":10.2},{"m":"e46","t":51,"v":10.2},{"m":"e46","t":52,"v":10.2},{"m":"e46","t":53,"v":10.2},{"m":"e46","t":54,"v":10.2},{"m":"e46","t":55,"v":10.2},{"m":"e46","t":56,"v":10.2},{"m":"e46","t":57,"v":10.2},{"m":"e46","t":58,"v":10.2},{"m":"e46","t":59,"v":10.2},{"m":"e46","t":60,"v":10.2},
{"m":"e47","t":56,"v":0.3},{"m":"e47","t":57,"v":0.4},{"m":"e47","t":58,"v":0.46},{"m":"e47","t":59,"v":0.46},{"m":"e47","t":60,"v":0.46},
{"m":"e48","t":23,"v":0.1},{"m":"e48","t":24,"v":0.1},{"m":"e48","t":25,"v":0.1},{"m":"e48","t":26,"v":0.1},{"m":"e48","t":27,"v":0.1},{"m":"e48","t":28,"v":0.1},{"m":"e48","t":29,"v":0.1},{"m":"e48","t":30,"v":0.1},{"m":"e48","t":31,"v":0.1},{"m":"e48","t":32,"v":2.2},{"m":"e48","t":33,"v":2.2},{"m":"e48","t":34,"v":2.2},{"m":"e48","t":35,"v":2.2},{"m":"e48","t":36,"v":2.2},{"m":"e48","t":37,"v":2.2},{"m":"e48","t":38,"v":2.2},{"m":"e48","t":39,"v":2.2},{"m":"e48","t":40,"v":2.2},{"m":"e48","t":41,"v":2.2},{"m":"e48","t":42,"v":2.2},{"m":"e48","t":43,"v":2.2},{"m":"e48","t":44,"v":2.2},{"m":"e48","t":45,"v":2.2},{"m":"e48","t":46,"v":2.2},{"m":"e48","t":47,"v":2.2},{"m":"e48","t":48,"v":2.2},{"m":"e48","t":49,"v":2.2},{"m":"e48","t":50,"v":2.2},{"m":"e48","t":51,"v":2.2},{"m":"e48","t":52,"v":2.2},{"m":"e48","t":53,"v":2.2},{"m":"e48","t":54,"v":2.2},{"m":"e48","t":55,"v":2.2},{"m":"e48","t":56,"v":2.2},{"m":"e48","t":57,"v":2.2},{"m":"e48","t":58,"v":2.2},{"m":"e48","t":59,"v":2.2},{"m":"e48","t":60,"v":2.2},
{"m":"e49","t":30,"v":0.1},{"m":"e49","t":31,"v":0.1},{"m":"e49","t":32,"v":0.2},{"m":"e49","t":33,"v":0.2},{"m":"e49","t":34,"v":0.2},{"m":"e49","t":35,"v":0.2},{"m":"e49","t":36,"v":0.2},{"m":"e49","t":37,"v":0.2},{"m":"e49","t":38,"v":0.2},{"m":"e49","t":39,"v":0.2},{"m":"e49","t":40,"v":0.2},{"m":"e49","t":41,"v":0.2},{"m":"e49","t":42,"v":0.2},{"m":"e49","t":43,"v":0.2},{"m":"e49","t":44,"v":0.2},{"m":"e49","t":45,"v":0.2},{"m":"e49","t":46,"v":0.2},{"m":"e49","t":47,"v":0.2},{"m":"e49","t":48,"v":0.2},{"m":"e49","t":49,"v":0.2},{"m":"e49","t":50,"v":0.2},{"m":"e49","t":51,"v":0.2},{"m":"e49","t":52,"v":0.2},{"m":"e49","t":53,"v":0.2},{"m":"e49","t":54,"v":0.2},{"m":"e49","t":55,"v":0.2},{"m":"e49","t":56,"v":0.2},{"m":"e49","t":57,"v":0.2},{"m":"e49","t":58,"v":0.2},{"m":"e49","t":59,"v":0.2},{"m":"e49","t":60,"v":0.2},
{"m":"e50","t":32,"v":0.4},{"m":"e50","t":33,"v":2.2},{"m":"e50","t":34,"v":3.2},{"m":"e50","t":35,"v":3.2},{"m":"e50","t":36,"v":3.2},{"m":"e50","t":37,"v":3.2},{"m":"e50","t":38,"v":3.2},{"m":"e50","t":39,"v":3.2},{"m":"e50","t":40,"v":3.2},{"m":"e50","t":41,"v":3.2},{"m":"e50","t":42,"v":3.2},{"m":"e50","t":43,"v":3.2},{"m":"e50","t":44,"v":3.2},{"m":"e50","t":45,"v":3.2},{"m":"e50","t":46,"v":3.2},{"m":"e50","t":47,"v":3.2},{"m":"e50","t":48,"v":3.2},{"m":"e50","t":49,"v":3.2},{"m":"e50","t":50,"v":3.2},{"m":"e50","t":51,"v":3.2},{"m":"e50","t":52,"v":3.2},{"m":"e50","t":53,"v":3.2},{"m":"e50","t":54,"v":3.2},{"m":"e50","t":55,"v":3.2},{"m":"e50","t":56,"v":3.2},{"m":"e50","t":57,"v":3.2},{"m":"e50","t":58,"v":3.2},{"m":"e50","t":59,"v":3.2},{"m":"e50","t":60,"v":3.2}
]},
"hconcat":[
{"vconcat":[
{"width":919,"height":587,
"view":{"stroke":"black","strokeWidth":2},
"title":{"text":"KORF NORFOLK\u00a0\u00a0\u00a0\u00a0, VA","anchor":"start","frame":"group","dx":345,"offset":5,"font":"DejaVu Sans Condensed, Liberation Sans Narrow, DejaVu Sans","fontSize":18.5,"fontWeight":"normal","color":"#3050f8"},
"resolve":{"axis":{"x":"independent"}},
"layer":[
{"data":{"name":"mem"},"mark":{"type":"rect","width":14.4},
"encoding":{
"x":{"field":"t","type":"quantitative","scale":{"domain":[0,63.82],"nice":false,"zero":false},"axis":{"values":[0,4,8,12,16,20,24,28,32,36,40,44,48,52,56,60],"labelExpr":"(14 + datum.value/4) + '/12z'","title":null,"grid":false,"domain":false,"tickSize":4,"tickColor":"black","labelFont":"DejaVu Sans Condensed, Liberation Sans Narrow, DejaVu Sans","labelFontSize":11,"labelPadding":2,"labelColor":"black","labelFlush":false,"labelOverlap":false}},
"y":{"field":"m","type":"nominal","scale":{"domain":["CONT","e01","e02","e03","e04","e05","e06","e07","e08","e09","e10","e11","e12","e13","e14","e15","e16","e17","e18","e19","e20","e21","e22","e23","e24","e25","e26","e27","e28","e29","e30","e31","e32","e33","e34","e35","e36","e37","e38","e39","e40","e41","e42","e43","e44","e45","e46","e47","e48","e49","e50"],"paddingInner":0,"paddingOuter":0.47},"axis":{"title":null,"ticks":false,"domain":false,"labelFont":"DejaVu Sans","labelFontSize":11,"labelPadding":5,"labelColor":"black"}},
"color":{"field":"v","type":"quantitative","legend":null,"scale":{"type":"threshold","domain":[0.1,0.5,1,1.5,2,2.5,3,3.5,4,4.5,5,5.5,6,6.5,7,7.5,8,8.5,9,9.5,10,11,12,13,14,15,16,17,18,19,20,21,22,23,24,25,26,27,28,29,30,31,32,33,34,35,36,37,38,39,40,41,42,43,44,45,46,47,48],"range":["#ffffff","#bebebe","#969696","#6e6e6e","#505050","#96d2fa","#78b9fa","#50a5f5","#3c96f5","#2882f0","#1e6eeb","#1464d2","#0a5ac8","#3c0096","#46009b","#500091","#5a008c","#640087","#780082","#9b0080","#c8007a","#e6007a","#f01482","#f53c91","#fa5aa5","#ff6eb4","#fa82be","#f596c3","#f0a0c8","#e6a5cd","#dcaad2","#d2b4d7","#cdbedc","#c3c8e6","#b4d2e6","#aadff0","#a0ebf0","#8cf5f0","#7ddcd2","#73b4b4","#76b1b8","#79aebc","#7dabc0","#80a9c4","#84a6c8","#87a4cb","#8aa1cf","#8e9fd2","#929dd5","#969bd8","#9a99db","#9e97de","#a295e1","#a793e4","#ab91e7","#b08fea","#b58eec","#ba8dee","#c08cef","#c88cf0"]}}
}},
{"data":{"name":"mem"},"transform":[{"filter":"datum.t % 2 == 0 && datum.v < 0.95"}],"mark":{"type":"text","font":"DejaVu Sans","fontSize":10},
"encoding":{
"x":{"field":"t","type":"quantitative","scale":{"domain":[0,63.82],"nice":false,"zero":false},"axis":null},
"y":{"field":"m","type":"nominal"},
"text":{"field":"v","type":"quantitative","format":".1f"},
"color":{"value":"black"}}},
{"data":{"name":"mem"},"transform":[{"filter":"datum.t % 2 == 0 && datum.v >= 0.95"}],"mark":{"type":"text","font":"DejaVu Sans"},
"encoding":{
"x":{"field":"t","type":"quantitative","scale":{"domain":[0,63.82],"nice":false,"zero":false},"axis":null},
"y":{"field":"m","type":"nominal"},
"text":{"field":"v","type":"quantitative","format":".0f"},
"size":{"condition":{"test":"datum.v >= 10.5","value":8.5},"value":10},
"color":{"condition":{"test":"(datum.v >= 0.95 && datum.v < 2) || (datum.v >= 4 && datum.v < 9.5)","value":"white"},"value":"black"}}},
{"data":{"name":"dt"},"mark":{"type":"rule","opacity":0},
"encoding":{
"x":{"field":"t","type":"quantitative","scale":{"domain":[0,63.82],"nice":false,"zero":false},"axis":{"orient":"bottom","offset":23,"values":[2,10,18,26,34,42,50,58],"labelExpr":"(15 + (datum.value-2)/4) + 'JAN'","title":null,"grid":false,"domain":true,"domainColor":"black","domainWidth":2,"tickSize":5,"tickWidth":2,"tickColor":"black","labelFont":"DejaVu Sans Condensed, Liberation Sans Narrow, DejaVu Sans","labelFontSize":17,"labelPadding":2,"labelColor":"black","labelFlush":false,"labelOverlap":false}}}}
]},
{"width":919,"height":27,
"view":{"stroke":"black","strokeWidth":2},
"data":{"name":"mn"},
"title":{"text":"Personal use only according to our TOS (pf13671N0UKORF4t675)","orient":"bottom","anchor":"end","frame":"group","dx":9,"offset":34,"font":"DejaVu Sans Condensed, Liberation Sans Narrow, DejaVu Sans","fontSize":12,"fontWeight":"normal","color":"#222222"},
"encoding":{
"x":{"field":"t","type":"quantitative","scale":{"domain":[0,63.82],"nice":false,"zero":false},"axis":{"values":[0,4,8,12,16,20,24,28,32,36,40,44,48,52,56,60],"labelExpr":"(14 + datum.value/4) + '/12z'","title":null,"grid":false,"domain":false,"tickSize":4,"tickColor":"black","labelFont":"DejaVu Sans Condensed, Liberation Sans Narrow, DejaVu Sans","labelFontSize":11,"labelPadding":2,"labelColor":"black","labelFlush":false,"labelOverlap":false}},
"y":{"field":"m","type":"nominal","scale":{"paddingInner":0,"paddingOuter":0},"axis":{"title":null,"ticks":false,"domain":false,"labelFont":"DejaVu Sans Condensed, Liberation Sans Narrow, DejaVu Sans","labelFontSize":10,"labelPadding":5,"labelColor":"black"}}
},
"layer":[
{"mark":{"type":"rect","width":14.4},
"encoding":{
"color":{"field":"v","type":"quantitative","legend":null,"scale":{"type":"threshold","domain":[0.1,0.5,1,1.5,2,2.5,3,3.5,4,4.5,5,5.5,6,6.5,7,7.5,8,8.5,9,9.5,10,11,12,13,14,15,16,17,18,19,20,21,22,23,24,25,26,27,28,29,30,31,32,33,34,35,36,37,38,39,40,41,42,43,44,45,46,47,48],"range":["#ffffff","#bebebe","#969696","#6e6e6e","#505050","#96d2fa","#78b9fa","#50a5f5","#3c96f5","#2882f0","#1e6eeb","#1464d2","#0a5ac8","#3c0096","#46009b","#500091","#5a008c","#640087","#780082","#9b0080","#c8007a","#e6007a","#f01482","#f53c91","#fa5aa5","#ff6eb4","#fa82be","#f596c3","#f0a0c8","#e6a5cd","#dcaad2","#d2b4d7","#cdbedc","#c3c8e6","#b4d2e6","#aadff0","#a0ebf0","#8cf5f0","#7ddcd2","#73b4b4","#76b1b8","#79aebc","#7dabc0","#80a9c4","#84a6c8","#87a4cb","#8aa1cf","#8e9fd2","#929dd5","#969bd8","#9a99db","#9e97de","#a295e1","#a793e4","#ab91e7","#b08fea","#b58eec","#ba8dee","#c08cef","#c88cf0"]}}}},
{"transform":[{"filter":"datum.t % 2 == 0 && datum.v < 0.95"}],"mark":{"type":"text","font":"DejaVu Sans","fontSize":10},
"encoding":{
"text":{"field":"v","type":"quantitative","format":".1f"},
"color":{"value":"black"}}},
{"transform":[{"filter":"datum.t % 2 == 0 && datum.v >= 0.95"}],"mark":{"type":"text","font":"DejaVu Sans","fontSize":10},
"encoding":{
"text":{"field":"v","type":"quantitative","format":".0f"},
"color":{"condition":{"test":"(datum.v >= 0.95 && datum.v < 2) || (datum.v >= 4 && datum.v < 9.5)","value":"white"},"value":"black"}}}
]}
],"spacing":63,"bounds":"flush",
"title":{"text":["ECMWF EPS | Total Snowfall [inch] | 50-perturbed members + Control","15-day Forecast Init: 12Z14JAN2025"],"anchor":"start","frame":"bounds","dx":46,"dy":18,"offset":0,"font":"DejaVu Sans Condensed, Liberation Sans Narrow, DejaVu Sans","fontSize":18.5,"fontWeight":"normal","color":"black","lineHeight":18}},
{"width":15,"height":693,
"data":{"name":"lg"},
"view":{"stroke":null},
"title":{"text":["\u00a0","\u00a0"],"anchor":"start","frame":"group","offset":5.5,"font":"DejaVu Sans Condensed, Liberation Sans Narrow, DejaVu Sans","fontSize":18.5,"fontWeight":"normal","color":"white","lineHeight":18},
"mark":"rect",
"encoding":{
"y":{"field":"v","type":"ordinal","sort":"descending","scale":{"paddingInner":0,"paddingOuter":0},"axis":{"orient":"right","title":null,"values":[0.1,1,2,3,4,5,6,7,8,9,10,12,14,16,18,20,22,24,26,28,30,32,34,36,38,40,42,44,46,48],"labelOffset":5.9,"ticks":false,"domain":false,"labelFont":"DejaVu Sans","labelFontSize":11,"labelPadding":6,"labelColor":"black","labelOverlap":false}},
"color":{"field":"v","type":"quantitative","legend":null,"scale":{"type":"threshold","domain":[0.1,0.5,1,1.5,2,2.5,3,3.5,4,4.5,5,5.5,6,6.5,7,7.5,8,8.5,9,9.5,10,11,12,13,14,15,16,17,18,19,20,21,22,23,24,25,26,27,28,29,30,31,32,33,34,35,36,37,38,39,40,41,42,43,44,45,46,47,48],"range":["#ffffff","#bebebe","#969696","#6e6e6e","#505050","#96d2fa","#78b9fa","#50a5f5","#3c96f5","#2882f0","#1e6eeb","#1464d2","#0a5ac8","#3c0096","#46009b","#500091","#5a008c","#640087","#780082","#9b0080","#c8007a","#e6007a","#f01482","#f53c91","#fa5aa5","#ff6eb4","#fa82be","#f596c3","#f0a0c8","#e6a5cd","#dcaad2","#d2b4d7","#cdbedc","#c3c8e6","#b4d2e6","#aadff0","#a0ebf0","#8cf5f0","#7ddcd2","#73b4b4","#76b1b8","#79aebc","#7dabc0","#80a9c4","#84a6c8","#87a4cb","#8aa1cf","#8e9fd2","#929dd5","#969bd8","#9a99db","#9e97de","#a295e1","#a793e4","#ab91e7","#b08fea","#b58eec","#ba8dee","#c08cef","#c88cf0"]}}}}
],
"spacing":0,
"bounds":"full"
}
